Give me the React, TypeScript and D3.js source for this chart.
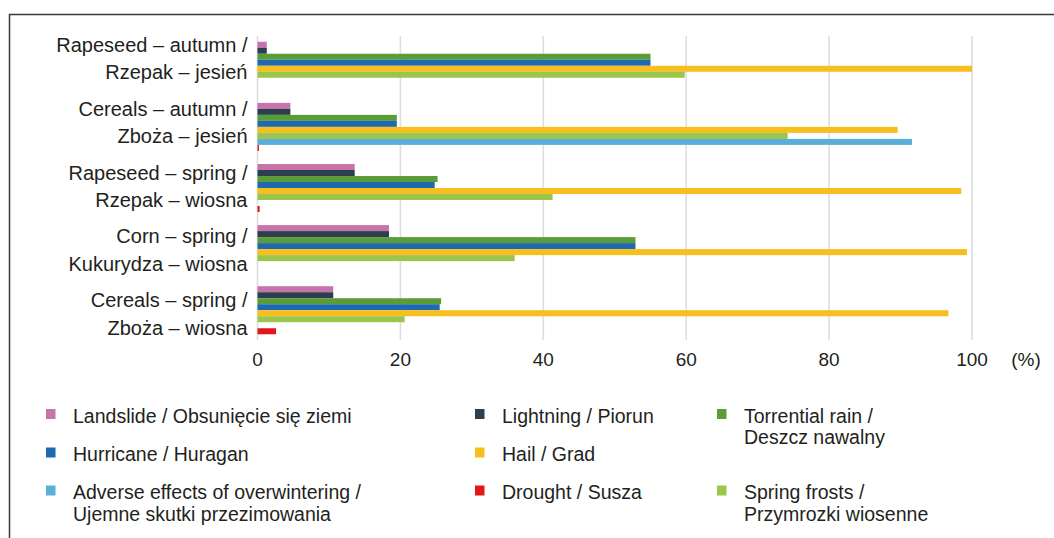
import React from "react";
import * as d3 from "d3";

// Crop groups (two-line bilingual labels)
const categories = ["rapeseedAutumn", "cerealsAutumn", "rapeseedSpring", "cornSpring", "cerealsSpring"];
const categoryLine1 = ["Rapeseed – autumn /", "Cereals – autumn /", "Rapeseed – spring /", "Corn – spring /", "Cereals – spring /"];
const categoryLine2 = ["Rzepak – jesień", "Zboża – jesień", "Rzepak – wiosna", "Kukurydza – wiosna", "Zboża – wiosna"];

// Share of insured risks per crop group (%)
const landslide = [1.3, 4.6, 13.6, 18.4, 10.6];
const lightning = [1.3, 4.6, 13.6, 18.4, 10.6];
const torrentialRain = [55.0, 19.5, 25.2, 52.9, 25.7];
const hurricane = [55.0, 19.5, 24.8, 52.9, 25.5];
const hail = [100, 89.6, 98.5, 99.3, 96.7];
const springFrosts = [59.8, 74.2, 41.3, 36.0, 20.6];
const overwintering = [0, 91.6, 0, 0, 0];
const drought = [0, 0.2, 0.3, 0, 2.6];

const xTicks = [0, 20, 40, 60, 80, 100];
const axisUnit = "(%)";

type Series = { key: string; lines: string[]; values: number[]; color: string; col: number; row: number };

const series: Series[] = [
  { key: "landslide", lines: ["Landslide / Obsunięcie się ziemi"], values: landslide, color: "#c873aa", col: 0, row: 0 },
  { key: "lightning", lines: ["Lightning / Piorun"], values: lightning, color: "#2c3e50", col: 1, row: 0 },
  { key: "torrential", lines: ["Torrential rain /", "Deszcz nawalny"], values: torrentialRain, color: "#5a9d38", col: 2, row: 0 },
  { key: "hurricane", lines: ["Hurricane / Huragan"], values: hurricane, color: "#1f69b1", col: 0, row: 1 },
  { key: "hail", lines: ["Hail / Grad"], values: hail, color: "#f6bf1e", col: 1, row: 1 },
  { key: "frosts", lines: ["Spring frosts /", "Przymrozki wiosenne"], values: springFrosts, color: "#9bc54d", col: 2, row: 2 },
  { key: "overwintering", lines: ["Adverse effects of overwintering /", "Ujemne skutki przezimowania"], values: overwintering, color: "#5aafd9", col: 0, row: 2 },
  { key: "drought", lines: ["Drought / Susza"], values: drought, color: "#e3161c", col: 1, row: 2 },
];

const W = 1054;
const H = 538;
const FONT = "'Liberation Sans', Arial, Helvetica, sans-serif";
const TEXT = "#231f20";

export default function App() {
  const x = d3.scaleLinear().domain([0, 100]).range([257.5, 972]);
  const y0 = d3.scaleBand<string>().domain(categories).range([36, 340]).paddingInner(0.214).paddingOuter(0.094);
  const y1 = d3.scaleBand<string>().domain(series.map((s) => s.key)).range([0, y0.bandwidth()]);
  const labelY = d3.scalePoint<string>().domain(categories).range([51.7, 307.3]);

  const legendColX = [46, 475, 717];
  const legendRowY = [422.5, 461, 499];
  const lineGap = 21.5;

  return (
    <svg
      width={W}
      height={H}
      style={{ position: "fixed", left: 0, top: 0, background: "#fff" }}
      fontFamily={FONT}
    >
      <rect x={0} y={0} width={W} height={H} fill="#fff" />
      {/* frame */}
      <path d={`M9.5,${H + 2} V14.5 H${W + 2}`} fill="none" stroke="#3a3a3a" strokeWidth={1.5} />

      {/* grid lines */}
      {xTicks.map((t) => (
        <line key={t} x1={x(t)} x2={x(t)} y1={36} y2={340} stroke="#dedede" strokeWidth={1.6} />
      ))}

      {/* bars */}
      {categories.map((c) => (
        <g key={c} transform={`translate(0,${y0(c)})`}>
          {series.map((s, i) =>
            s.values[categories.indexOf(c)] > 0 ? (
              <rect
                key={s.key}
                x={x(0)}
                y={y1(s.key)}
                width={x(s.values[categories.indexOf(c)]) - x(0)}
                height={y1.bandwidth()}
                fill={s.color}
              />
            ) : null
          )}
        </g>
      ))}

      {/* category labels */}
      {categories.map((c, i) => (
        <g key={c} fontSize={20} fill={TEXT} textAnchor="end">
          <text x={247.5} y={labelY(c)}>{categoryLine1[i]}</text>
          <text x={247.5} y={(labelY(c) as number) + 27.4}>{categoryLine2[i]}</text>
        </g>
      ))}

      {/* x tick labels */}
      {xTicks.map((t) => (
        <text key={t} x={x(t)} y={366} fontSize={19} fill={TEXT} textAnchor="middle">
          {t}
        </text>
      ))}
      <text x={1026} y={366} fontSize={19} fill={TEXT} textAnchor="middle">{axisUnit}</text>

      {/* legend */}
      {series.map((s) => {
        const lx = legendColX[s.col];
        const ly = legendRowY[s.row];
        return (
          <g key={s.key}>
            <rect x={lx} y={ly - 13.5} width={9.5} height={10} fill={s.color} />
            {s.lines.map((ln, k) => (
              <text key={k} x={lx + 27} y={ly + k * lineGap} fontSize={19.5} fill={TEXT}>
                {ln}
              </text>
            ))}
          </g>
        );
      })}
    </svg>
  );
}
